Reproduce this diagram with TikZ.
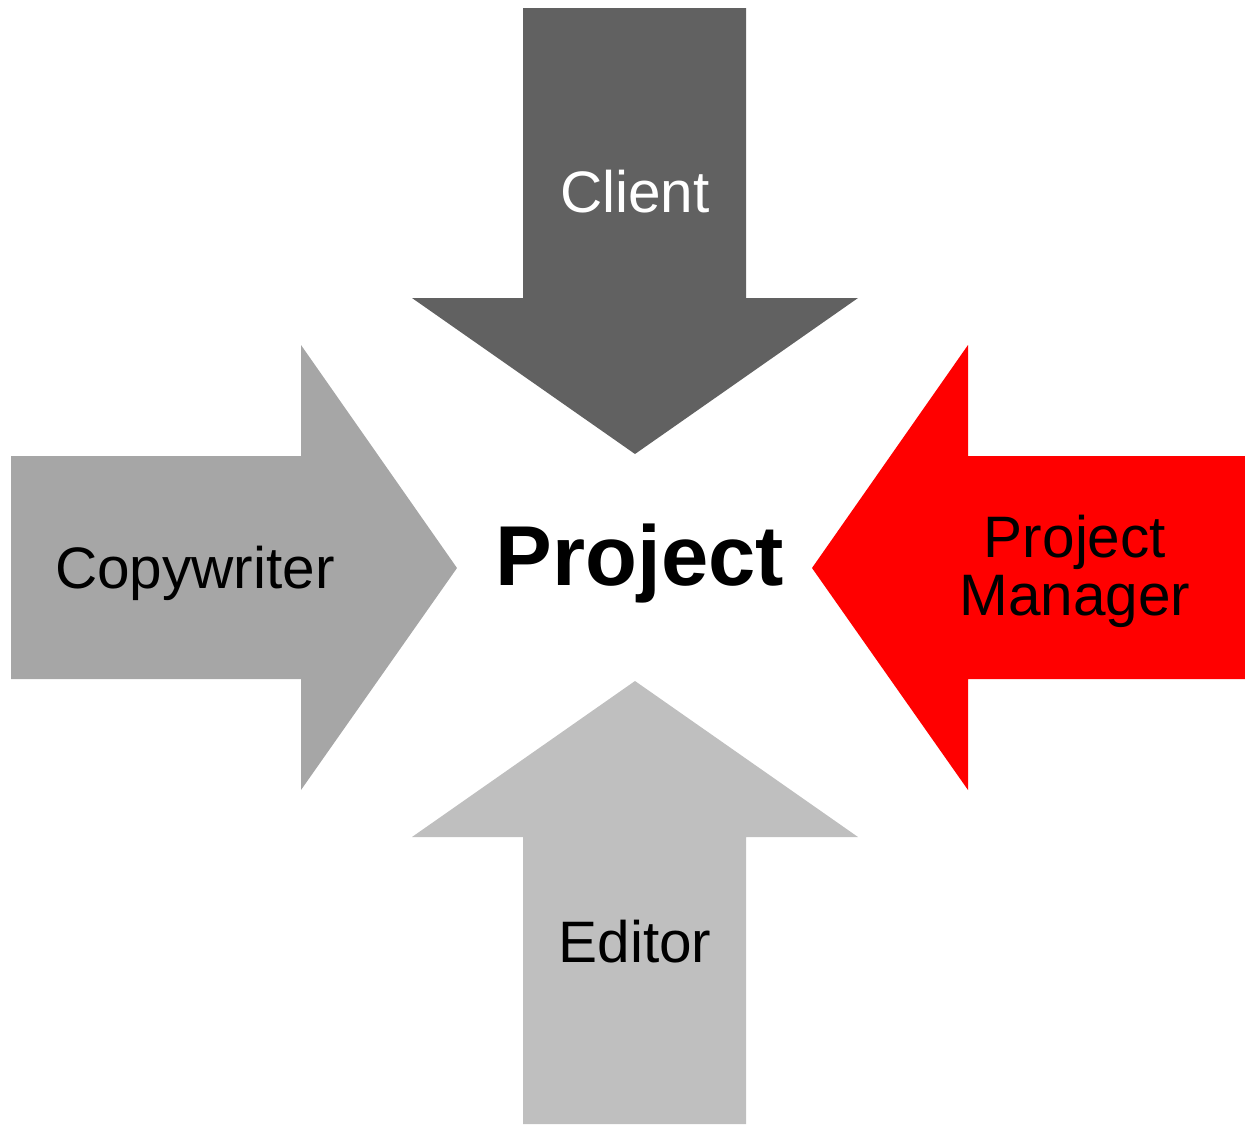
\documentclass[tikz,border=0pt]{standalone}
\usepackage{fontspec}
\setmainfont{Liberation Sans}
\definecolor{clientgray}{HTML}{616161}
\definecolor{copygray}{HTML}{A6A6A6}
\definecolor{editgray}{HTML}{BFBFBF}
\definecolor{pmred}{HTML}{FF0000}
\tikzstyle{bigarrow}=[draw=none]
\tikzstyle{lbl}=[inner sep=0pt, anchor=base, align=center, font=\fontsize{58.5}{58}\selectfont]
\tikzstyle{centre}=[inner sep=0pt, anchor=base, font=\fontsize{85}{85}\selectfont\bfseries]
\begin{document}
\begin{tikzpicture}[x=1pt,y=-1pt]
				\useasboundingbox (0,0) rectangle (1245,1125);
				
				%The top arrow
				\fill[bigarrow, clientgray] (523,8) -- (746,8) -- (746,298) -- (858,298)
					-- (635,454) -- (412,298) -- (523,298) -- cycle;
				\node[lbl, text=white] (client) at (635,212) {Client};
				
				%The left arrow
				\fill[bigarrow, copygray] (11,456) -- (301,456) -- (301,345) -- (457,568)
					-- (301,790) -- (301,679) -- (11,679) -- cycle;
				\node[lbl] (copy) at (195,588) {Copywriter};
				
				%The right arrow
				\fill[bigarrow, pmred] (1245,456) -- (968,456) -- (968,345) -- (812,568)
					-- (968,790) -- (968,679) -- (1245,679) -- cycle;
				\node[lbl] (pm) at (1075,615) {Project\\Manager};
				
				%The bottom arrow
				\fill[bigarrow, editgray] (523,1124) -- (746,1124) -- (746,837) -- (858,837)
					-- (635,681) -- (412,837) -- (523,837) -- cycle;
				\node[lbl] (editor) at (635,962) {Editor};
				
				%The centre
				\node[centre] (project) at (640,585) {Project};
			\end{tikzpicture}
\end{document}
